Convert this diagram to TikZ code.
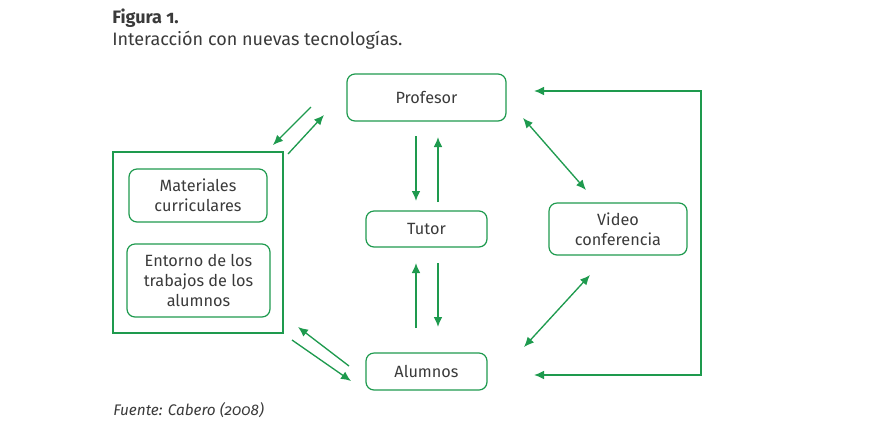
\documentclass[tikz,border=0pt]{standalone}
\usepackage{fontspec}
\setmainfont{Fira Sans}[Numbers=OldStyle]
\usetikzlibrary{arrows.meta}
\definecolor{grn}{HTML}{1E9A4E}
\definecolor{txt}{HTML}{3A3A3A}
\begin{document}
\begin{tikzpicture}[x=0.75pt,y=-0.75pt,
  box/.style={draw=grn,line width=0.9pt,rounded corners=6pt,align=center,text=txt,font=\fontsize{12.2}{15}\selectfont,inner sep=0pt},
  tip/.tip={Latex[length=7.5pt,width=6.5pt]},
  con/.style={draw=grn,line width=1pt,-tip},
  dcon/.style={draw=grn,line width=1pt,tip-tip}]
\useasboundingbox (0,0) rectangle (873,444);
% title
\node[anchor=west,text=txt,font=\fontsize{13.5}{16}\selectfont\bfseries,inner sep=0pt] (tit) at (112,18) {Figura 1.};
\node[anchor=west,text=txt,font=\fontsize{13.5}{16}\selectfont,inner sep=0pt] (sub) at (112,40) {Interacción con nuevas tecnologías.};
\node[anchor=west,text=txt,font=\fontsize{11.5}{13}\selectfont\itshape,inner sep=0pt] (src) at (113,410) {Fuente: Cabero (2008)};
% boxes
\node[box,minimum width=119.25pt,minimum height=35.25pt] (prof) at (426.5,97.5) {Profesor};
\node[box,minimum width=90.75pt,minimum height=27pt] (tutor) at (426.5,229) {Tutor};
\node[box,minimum width=103.5pt,minimum height=39pt] (video) at (618,229) {Video\\conferencia};
\node[box,minimum width=90.75pt,minimum height=27.75pt] (alum) at (426.5,371.5) {Alumnos};
\node[draw=grn,line width=0.9pt,minimum width=127.5pt,minimum height=135.75pt,inner sep=0pt] (outer) at (198,242.5) {};
\node[box,minimum width=103.5pt,minimum height=39.75pt] (mat) at (198,195.5) {Materiales\\curriculares};
\node[box,minimum width=107.25pt,minimum height=54.75pt] (ent) at (198.5,280.5) {Entorno de los\\trabajos de los\\alumnos};
% coordinates for offset arrows
\coordinate (a1s) at (311,107); \coordinate (a1e) at (273,145);
\coordinate (a2s) at (288,154); \coordinate (a2e) at (324,115);
\coordinate (a3s) at (349,366); \coordinate (a3e) at (298,327);
\coordinate (a4s) at (292,340); \coordinate (a4e) at (351,381);
\coordinate (pt1s) at (416,136); \coordinate (pt1e) at (416,201);
\coordinate (pt2s) at (438,202); \coordinate (pt2e) at (438,137);
\coordinate (ta1s) at (416,328); \coordinate (ta1e) at (416,263);
\coordinate (ta2s) at (438,263); \coordinate (ta2e) at (438,327);
\coordinate (pv1) at (523,118); \coordinate (pv2) at (586,190);
\coordinate (va1) at (590,275); \coordinate (va2) at (524,347);
\coordinate (l1) at (534,91); \coordinate (l2) at (701,91);
\coordinate (l3) at (701,375); \coordinate (l4) at (534,375);
% arrows
\draw[con] (a1s) -- (a1e);
\draw[con] (a2s) -- (a2e);
\draw[con] (a3s) -- (a3e);
\draw[con] (a4s) -- (a4e);
\draw[con] (pt1s) -- (pt1e);
\draw[con] (pt2s) -- (pt2e);
\draw[con] (ta1s) -- (ta1e);
\draw[con] (ta2s) -- (ta2e);
\draw[dcon] (pv1) -- (pv2);
\draw[dcon] (va1) -- (va2);
\draw[dcon] (l1) -- (l2) -- (l3) -- (l4);
\end{tikzpicture}
\end{document}
